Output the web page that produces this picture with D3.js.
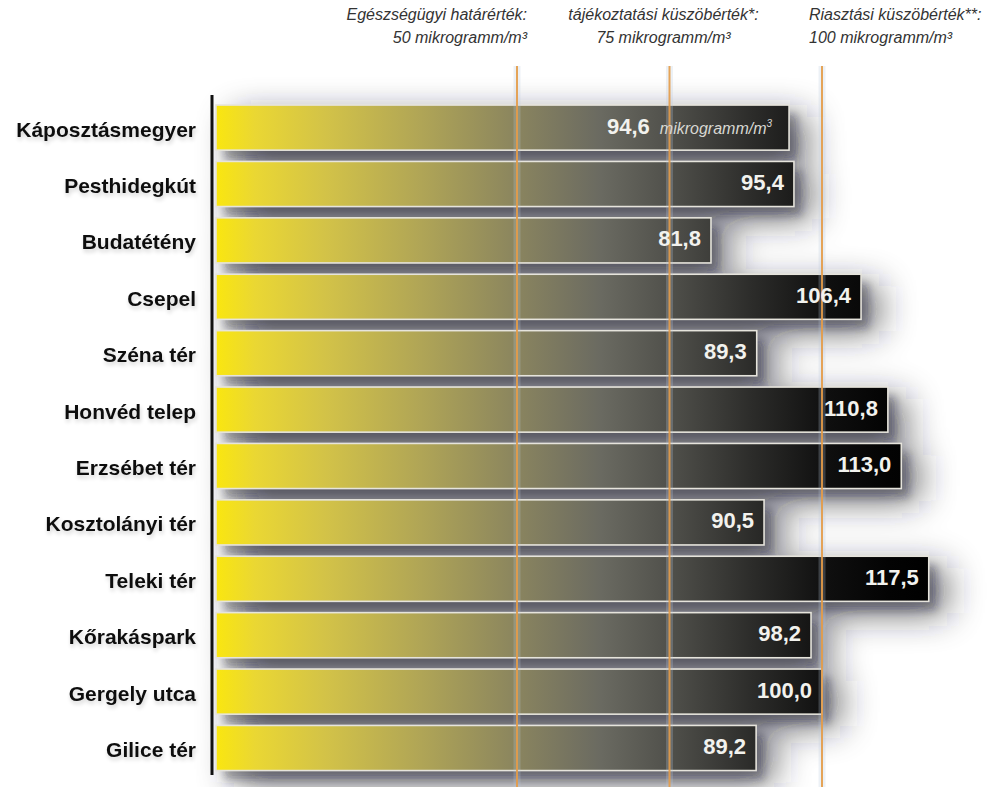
<!DOCTYPE html>
<html>
<head>
<meta charset="utf-8">
<script src="https://cdn.jsdelivr.net/npm/d3@7"></script>
<style>
  html, body { margin: 0; padding: 0; background: #fff; }
  svg { display: block; }
</style>
</head>
<body>
<svg id="chart" width="992" height="787"></svg>
<script>
// Station names (top to bottom) and measured PM10 peak values in µg/m³
const stations = [
  "Káposztásmegyer", "Pesthidegkút", "Budatétény", "Csepel", "Széna tér",
  "Honvéd telep", "Erzsébet tér", "Kosztolányi tér", "Teleki tér",
  "Kőrakáspark", "Gergely utca", "Gilice tér"
];
const values = [94.6, 95.4, 81.8, 106.4, 89.3, 110.8, 113.0, 90.5, 117.5, 98.2, 100.0, 89.2];
const valueLabels = ["94,6", "95,4", "81,8", "106,4", "89,3", "110,8", "113,0", "90,5", "117,5", "98,2", "100,0", "89,2"];

// Threshold reference lines and their captions
const thresholds = [50, 75, 100];
const thresholdTitles = ["Egészségügyi határérték:", "tájékoztatási küszöbérték*:", "Riasztási küszöbérték**:"];
const thresholdUnits = ["50 mikrogramm/m³", "75 mikrogramm/m³", "100 mikrogramm/m³"];
const unitLabel = "mikrogramm/m";

const W = 992, H = 787;
const svg = d3.select("#chart");

const x = d3.scaleLinear().domain([0, 100]).range([212, 822]);
const y = d3.scaleBand().domain(stations).range([99.4, 776.2]).paddingInner(0.2).paddingOuter(0.1);

const defs = svg.append("defs");

// Horizontal fill from bright yellow to black, laid out across the plot
const grad = defs.append("linearGradient")
  .attr("id", "barFill")
  .attr("gradientUnits", "userSpaceOnUse")
  .attr("x1", x(0)).attr("x2", x(118)).attr("y1", 0).attr("y2", 0);
const stops = [
  [0.00, "#fbe80c"], [0.06, "#ead733"], [0.16, "#d2c248"], [0.29, "#b0a556"],
  [0.43, "#88835f"], [0.54, "#6a6a61"], [0.64, "#4f4f4a"], [0.75, "#2c2c2a"],
  [0.85, "#101010"], [0.94, "#030303"], [1.00, "#000000"]
];
grad.selectAll("stop").data(stops).join("stop")
  .attr("offset", d => d[0]).attr("stop-color", d => d[1]);

// Drop shadow for the bars: a wide soft halo plus a tighter core
const shadow = defs.append("filter").attr("id", "barShadow")
  .attr("filterUnits", "userSpaceOnUse")
  .attr("x", 150).attr("y", 60).attr("width", 842).attr("height", 727);
shadow.append("feGaussianBlur").attr("in", "SourceGraphic").attr("stdDeviation", 18).attr("result", "wb");
shadow.append("feOffset").attr("in", "wb").attr("dx", 18).attr("dy", 12).attr("result", "wo");
shadow.append("feComponentTransfer").attr("in", "wo").attr("result", "wide")
  .append("feFuncA").attr("type", "linear").attr("slope", 0.7);
shadow.append("feGaussianBlur").attr("in", "SourceGraphic").attr("stdDeviation", 4).attr("result", "nb");
shadow.append("feOffset").attr("in", "nb").attr("dx", 8).attr("dy", 9).attr("result", "no");
shadow.append("feComponentTransfer").attr("in", "no").attr("result", "narrow")
  .append("feFuncA").attr("type", "linear").attr("slope", 0.35);
const sm = shadow.append("feMerge");
sm.append("feMergeNode").attr("in", "wide");
sm.append("feMergeNode").attr("in", "narrow");

const textShadow = defs.append("filter").attr("id", "labelShadow")
  .attr("x", "-5%").attr("y", "-30%").attr("width", "115%").attr("height", "170%");
textShadow.append("feGaussianBlur").attr("in", "SourceAlpha").attr("stdDeviation", 2).attr("result", "b");
textShadow.append("feOffset").attr("in", "b").attr("dx", 1).attr("dy", 3).attr("result", "o");
textShadow.append("feComponentTransfer").attr("in", "o").attr("result", "s")
  .append("feFuncA").attr("type", "linear").attr("slope", 0.18);
const tm = textShadow.append("feMerge");
tm.append("feMergeNode").attr("in", "s");
tm.append("feMergeNode").attr("in", "SourceGraphic");

const data = stations.map((s, i) => ({ name: s, value: values[i], label: valueLabels[i], i }));

// Shadows first, so every bar sits on top of the shadow cast by its neighbour
svg.append("g").attr("filter", "url(#barShadow)")
  .selectAll("rect").data(data).join("rect")
  .attr("x", x(0) + 4)
  .attr("y", d => y(d.name))
  .attr("width", d => x(d.value) - x(0) - 4)
  .attr("height", y.bandwidth())
  .attr("fill", "#1c1c2a");

// Bars
svg.append("g").selectAll("rect").data(data).join("rect")
  .attr("x", x(0) + 4)
  .attr("y", d => y(d.name))
  .attr("width", d => x(d.value) - x(0) - 4)
  .attr("height", y.bandwidth())
  .attr("fill", "url(#barFill)")
  .attr("stroke", "#e6e4dc")
  .attr("stroke-width", 1.6);

// Value axis baseline
svg.append("line")
  .attr("x1", x(0)).attr("x2", x(0))
  .attr("y1", 95).attr("y2", 775)
  .attr("stroke", "#111").attr("stroke-width", 3);

// Threshold lines with a faint pale halo
const tl = svg.append("g");
tl.selectAll("line.halo").data(thresholds).join("line").attr("class", "halo")
  .attr("x1", d => x(d)).attr("x2", d => x(d))
  .attr("y1", 66).attr("y2", H)
  .attr("stroke", "#b8c8dc").attr("stroke-width", 7).attr("opacity", 0.25);
tl.selectAll("line.rule").data(thresholds).join("line").attr("class", "rule")
  .attr("x1", d => x(d)).attr("x2", d => x(d))
  .attr("y1", 66).attr("y2", H)
  .attr("stroke", "#e59c48").attr("stroke-width", 2).attr("opacity", 0.9);

// Threshold captions
const anchors = ["end", "middle", "start"];
const capX = [x(50) + 10, x(75) - 6, x(100) - 13];
const cap = svg.append("g")
  .attr("font-family", "'Liberation Sans', Arial, sans-serif")
  .attr("font-style", "italic").attr("font-size", 16).attr("fill", "#333");
thresholds.forEach((t, i) => {
  cap.append("text").attr("x", capX[i]).attr("y", 20).attr("text-anchor", anchors[i]).text(thresholdTitles[i]);
  cap.append("text").attr("x", capX[i]).attr("y", 43).attr("text-anchor", anchors[i]).text(thresholdUnits[i]);
});

// Station names
svg.append("g")
  .attr("font-family", "'Liberation Sans', Arial, sans-serif")
  .attr("font-weight", "bold").attr("font-size", 21).attr("fill", "#111")
  .attr("filter", "url(#labelShadow)")
  .selectAll("text").data(data).join("text")
  .attr("x", 196)
  .attr("y", d => y(d.name) + y.bandwidth() / 2 + 9)
  .attr("text-anchor", "end")
  .text(d => d.name);

// Value labels inside the bar ends
const vl = svg.append("g")
  .attr("font-family", "'Liberation Sans', Arial, sans-serif")
  .attr("fill", "#f2f2ee")
  .selectAll("text").data(data).join("text")
  .attr("x", d => x(d.value) - (d.i === 0 ? 17 : 10))
  .attr("y", d => y(d.name) + y.bandwidth() / 2 + 6)
  .attr("text-anchor", "end");
vl.append("tspan").attr("font-weight", "bold").attr("font-size", 22).text(d => d.label);
vl.filter(d => d.i === 0).each(function () {
  const t = d3.select(this);
  t.append("tspan").attr("dx", 10).attr("font-style", "italic").attr("font-size", 16)
    .attr("fill", "#d8d8d2").text(unitLabel);
  t.append("tspan").attr("dy", -7).attr("font-style", "italic").attr("font-size", 10)
    .attr("fill", "#d8d8d2").text("3");
});
</script>
</body>
</html>
